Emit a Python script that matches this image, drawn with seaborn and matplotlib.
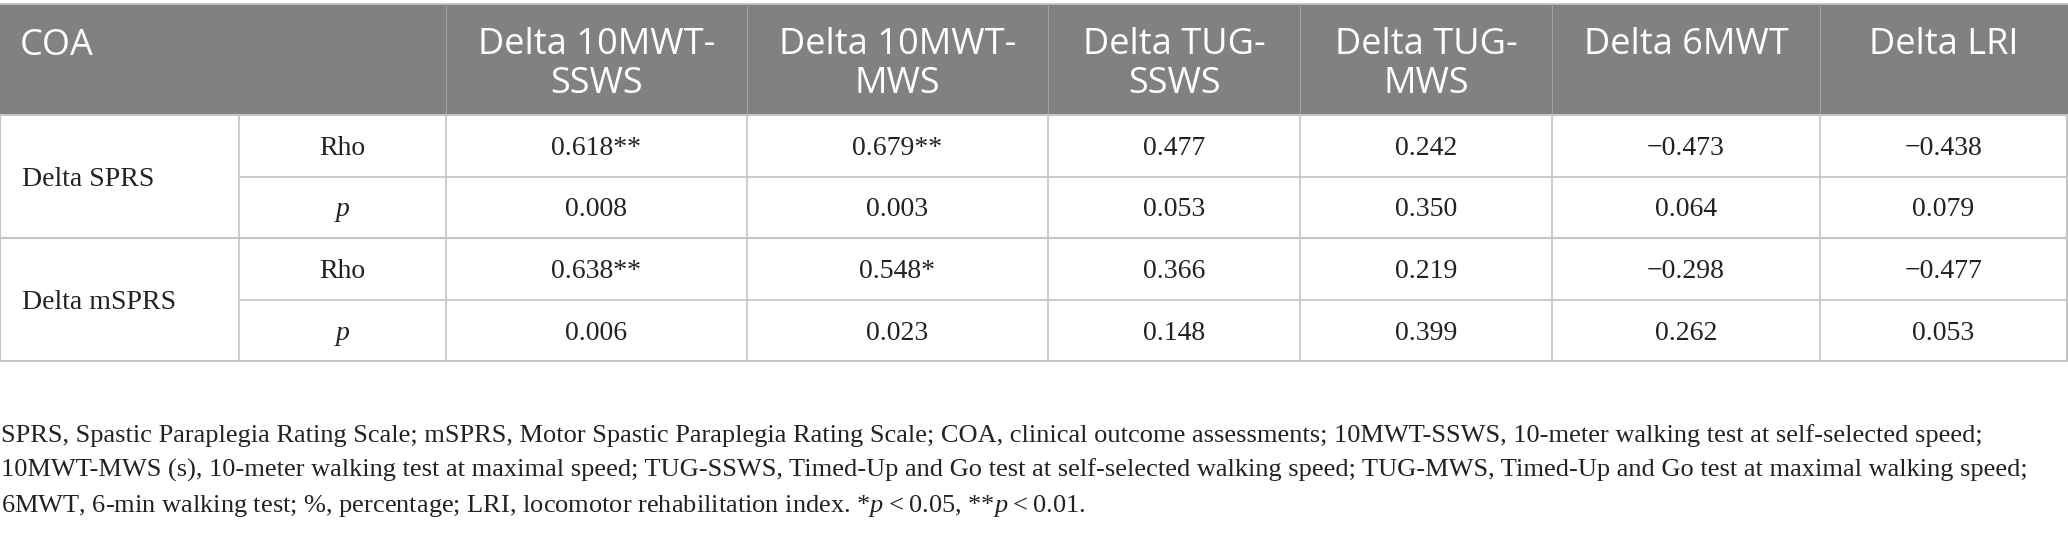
import matplotlib
matplotlib.use("Agg")
import matplotlib.pyplot as plt
from matplotlib.patches import Rectangle
import seaborn as sns

# table content
HEADER_LEFT = "COA"
COLUMNS = ["Delta 10MWT-\nSSWS", "Delta 10MWT-\nMWS", "Delta TUG-\nSSWS",
           "Delta TUG-\nMWS", "Delta 6MWT", "Delta LRI"]
GROUPS = ["Delta SPRS", "Delta mSPRS"]
STATS = ["Rho", "p"]
sprs_rho = ["0.618**", "0.679**", "0.477", "0.242", "\u22120.473", "\u22120.438"]
sprs_p = ["0.008", "0.003", "0.053", "0.350", "0.064", "0.079"]
msprs_rho = ["0.638**", "0.548*", "0.366", "0.219", "\u22120.298", "\u22120.477"]
msprs_p = ["0.006", "0.023", "0.148", "0.399", "0.262", "0.053"]
FOOTNOTE = [
    "SPRS, Spastic Paraplegia Rating Scale; mSPRS, Motor Spastic Paraplegia Rating Scale; "
    "COA, clinical outcome assessments; 10MWT-SSWS, 10-meter walking test at self-selected speed;",
    "10MWT-MWS (s), 10-meter walking test at maximal speed; TUG-SSWS, Timed-Up and Go test at "
    "self-selected walking speed; TUG-MWS, Timed-Up and Go test at maximal walking speed;",
    "6MWT, 6-min walking test; %, percentage; LRI, locomotor rehabilitation index. "
    "*$p$\u2009<\u20090.05, **$p$\u2009<\u20090.01.",
]

# layout (pixels)
W, H = 2068, 541
COL_EDGES = [0, 239, 446, 747, 1048, 1300, 1552, 1820, 2067]
HEAD_TOP, HEAD_BOT = 4, 115
ROW_EDGES = [115, 177, 238, 300, 361]
HEAD_BG = "#808180"
GRID = "#c4c4c4"
SERIF = "Liberation Serif"
SANS = "Open Sans"

sns.set_theme(style="white")
plt.rcParams["mathtext.fontset"] = "custom"
plt.rcParams["mathtext.rm"] = SERIF
plt.rcParams["mathtext.it"] = SERIF + ":italic"

fig = plt.figure(figsize=(W / 100, H / 100), dpi=100)
ax = fig.add_axes([0, 0, 1, 1])
ax.set_xlim(0, W)
ax.set_ylim(H, 0)
ax.axis("off")

# header band
ax.add_patch(Rectangle((0, HEAD_TOP), W, HEAD_BOT - HEAD_TOP, color=HEAD_BG, lw=0))
ax.plot([0, W], [HEAD_TOP, HEAD_TOP], color=GRID, lw=1.2)
for x in COL_EDGES[2:-1]:
    ax.plot([x, x], [HEAD_TOP, HEAD_BOT], color="#a3a3a3", lw=0.8)

ax.text(20, 55, HEADER_LEFT, color="white", fontsize=26, family=SANS, va="baseline")
for i, label in enumerate(COLUMNS):
    cx = (COL_EDGES[i + 2] + COL_EDGES[i + 3]) / 2
    for k, line in enumerate(label.split("\n")):
        ax.text(cx, 54 + k * 39, line, color="white", fontsize=26, family=SANS,
                ha="center", va="baseline")

# body grid
for x in COL_EDGES[1:-1]:
    ax.plot([x, x], [ROW_EDGES[0], ROW_EDGES[-1]], color=GRID, lw=1.2)
for x in (COL_EDGES[0], COL_EDGES[-1]):
    ax.plot([x, x], [ROW_EDGES[0], ROW_EDGES[-1]], color=GRID, lw=1.5)
for j, y in enumerate(ROW_EDGES):
    x0 = COL_EDGES[1] if j % 2 == 1 else 0
    ax.plot([x0, W], [y, y], color=GRID, lw=1.5 if j % 2 == 0 else 1.2)

rows = [sprs_rho, sprs_p, msprs_rho, msprs_p]
for r, values in enumerate(rows):
    cy = (ROW_EDGES[r] + ROW_EDGES[r + 1]) / 2 + 9
    stat = STATS[r % 2]
    ax.text((COL_EDGES[1] + COL_EDGES[2]) / 2, cy, stat, fontsize=20, family=SERIF,
            ha="center", va="baseline", color="#222222",
            fontstyle="italic" if stat == "p" else "normal")
    for c, v in enumerate(values):
        cx = (COL_EDGES[c + 2] + COL_EDGES[c + 3]) / 2
        ax.text(cx, cy, v, fontsize=20, family=SERIF, ha="center", va="baseline",
                color="#222222")

for g, name in enumerate(GROUPS):
    cy = ROW_EDGES[2 * g + 1] + 9
    ax.text(22, cy, name, fontsize=20, family=SERIF, va="baseline", color="#222222")

# footnote
for k, line in enumerate(FOOTNOTE):
    ax.text(1, 442 + k * 35, line, fontsize=19, family=SERIF, va="baseline",
            color="#222222")

fig.savefig("out.png", dpi=100)
